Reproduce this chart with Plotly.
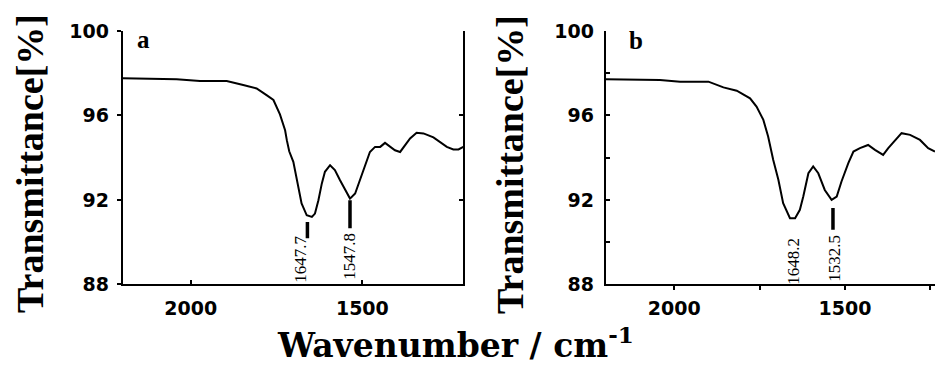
import plotly.graph_objects as go

# ---------------- data ----------------
# Panel a: wavenumber (cm^-1) and transmittance (%)
wn_a = [2198, 2041, 1973, 1895, 1847, 1808, 1779, 1759, 1740, 1725, 1720, 1713,
        1701, 1691, 1677, 1662, 1647, 1638, 1628, 1618, 1609, 1594, 1580, 1565,
        1550, 1536, 1521, 1507, 1492, 1478, 1463, 1448, 1434, 1419, 1405, 1390,
        1376, 1361, 1342, 1322, 1293, 1274, 1254, 1235, 1220, 1206]
tr_a = [97.76, 97.72, 97.63, 97.63, 97.44, 97.28, 96.96, 96.73, 96.05, 95.30, 94.83, 94.30,
        93.80, 92.93, 91.83, 91.27, 91.19, 91.35, 91.98, 92.78, 93.33, 93.64, 93.41, 92.93,
        92.46, 92.06, 92.30, 92.93, 93.56, 94.27, 94.51, 94.51, 94.70, 94.51, 94.35, 94.27,
        94.59, 94.91, 95.18, 95.15, 94.96, 94.75, 94.51, 94.39, 94.39, 94.51]

# Panel b
wn_b = [2201, 2042, 1983, 1900, 1856, 1817, 1778, 1759, 1739, 1725, 1710, 1695,
        1681, 1661, 1646, 1632, 1622, 1607, 1593, 1578, 1559, 1539, 1524, 1510,
        1490, 1475, 1456, 1432, 1412, 1388, 1373, 1353, 1334, 1309, 1280, 1256, 1236]
tr_b = [97.71, 97.68, 97.60, 97.60, 97.33, 97.17, 96.81, 96.42, 95.79, 95.00, 93.89, 92.95,
        91.84, 91.13, 91.13, 91.53, 92.16, 93.26, 93.58, 93.26, 92.47, 92.00, 92.16, 92.87,
        93.74, 94.29, 94.45, 94.60, 94.37, 94.13, 94.45, 94.84, 95.16, 95.08, 94.84, 94.45, 94.29]

# Peak markers (vertical bars) and peak labels
peak_bar_x_a = [1660, 1536]
peak_bar_top_a = [90.95, 91.98]
peak_bar_bot_a = [90.18, 90.65]
peak_lbl_a = ["1647.7", "1547.8"]
peak_lbl_x_a = [1679, 1536]
peak_lbl_y_a = [89.2, 89.3]

peak_bar_x_b = [1535]
peak_bar_top_b = [91.62]
peak_bar_bot_b = [90.58]
peak_lbl_b = ["1648.2", "1532.5"]
peak_lbl_x_b = [1649, 1531]
peak_lbl_y_b = [89.07, 89.23]

x_ticks = [2000, 1500]
x_minor_b = [1750, 1250]
y_ticks = [88, 92, 96, 100]
y_minor_b = [90, 94, 98]
y_range = [88, 100]
x_range_a = [2198, 1206]
x_range_b = [2201, 1236]

panel_letters = ["a", "b"]
y_title = "Transmittance[%]"
x_title = "Wavenumber / cm<sup>-1</sup>"

# ---------------- figure ----------------
W, H = 935, 365
fig = go.Figure()

fig.add_trace(go.Scatter(x=wn_a, y=tr_a, mode="lines", line=dict(color="black", width=2),
                         xaxis="x", yaxis="y", hoverinfo="skip", showlegend=False))
# invisible copy to activate the right-hand mirror axis of panel a
fig.add_trace(go.Scatter(x=wn_a, y=tr_a, mode="lines", opacity=0, line=dict(width=0),
                         xaxis="x", yaxis="y3", hoverinfo="skip", showlegend=False))
fig.add_trace(go.Scatter(x=wn_b, y=tr_b, mode="lines", line=dict(color="black", width=2),
                         xaxis="x2", yaxis="y2", hoverinfo="skip", showlegend=False))

for x, y0, y1 in zip(peak_bar_x_a, peak_bar_top_a, peak_bar_bot_a):
    fig.add_trace(go.Scatter(x=[x, x], y=[y0, y1], mode="lines", line=dict(color="black", width=3.5),
                             xaxis="x", yaxis="y", hoverinfo="skip", showlegend=False))
for x, y0, y1 in zip(peak_bar_x_b, peak_bar_top_b, peak_bar_bot_b):
    fig.add_trace(go.Scatter(x=[x, x], y=[y0, y1], mode="lines", line=dict(color="black", width=3.5),
                             xaxis="x2", yaxis="y2", hoverinfo="skip", showlegend=False))

tickfont = dict(family="DejaVu Sans", size=19, color="black", weight="bold")
ydom = [(H - 284.3) / H, (H - 31) / H]
common_ax = dict(showline=True, linewidth=2, linecolor="black", showgrid=False, zeroline=False,
                 tickwidth=2, tickcolor="black", ticklen=4, tickfont=tickfont, automargin=False)

fig.update_layout(
    template="none",
    width=W, height=H, margin=dict(l=0, r=0, t=0, b=0, pad=0), autosize=False,
    paper_bgcolor="white", plot_bgcolor="white", showlegend=False,
    xaxis=dict(domain=[122.7 / W, 463.3 / W], range=x_range_a, anchor="y",
               tickmode="array", tickvals=x_ticks, ticks="inside", ticklabelstandoff=6, **common_ax),
    yaxis=dict(domain=ydom, range=y_range, anchor="x", tickmode="array", tickvals=y_ticks,
               ticks="outside", ticklabelstandoff=4, **common_ax),
    yaxis3=dict(overlaying="y", side="right", anchor="x", range=y_range, tickmode="array",
                tickvals=y_ticks, ticks="inside", showticklabels=False, automargin=False,
                showline=True, linewidth=2, linecolor="black", showgrid=False, zeroline=False,
                tickwidth=2, tickcolor="black", ticklen=4),
    xaxis2=dict(domain=[605.7 / W, 1.0], range=x_range_b, anchor="y2",
                tickmode="array", tickvals=x_ticks, ticks="outside", ticklabelstandoff=2,
                minor=dict(tickmode="array", tickvals=x_minor_b, ticks="outside", ticklen=4,
                           tickwidth=2, tickcolor="black"),
                **common_ax),
    yaxis2=dict(domain=ydom, range=y_range, anchor="x2", tickmode="array", tickvals=y_ticks,
                ticks="inside", ticklabelstandoff=6,
                minor=dict(tickmode="array", tickvals=y_minor_b, ticks="inside", ticklen=4,
                           tickwidth=2, tickcolor="black"),
                **common_ax),
)

ann = []
serif = "Liberation Serif"
for txt, x, y in zip(peak_lbl_a, peak_lbl_x_a, peak_lbl_y_a):
    ann.append(dict(text=txt, x=x, y=y, xref="x", yref="y", showarrow=False, textangle=-90,
                    xanchor="center", yanchor="middle",
                    font=dict(family=serif, size=17, color="black")))
for txt, x, y in zip(peak_lbl_b, peak_lbl_x_b, peak_lbl_y_b):
    ann.append(dict(text=txt, x=x, y=y, xref="x2", yref="y2", showarrow=False, textangle=-90,
                    xanchor="center", yanchor="middle",
                    font=dict(family=serif, size=17, color="black")))

# panel letters
ann.append(dict(text=panel_letters[0], x=143.5 / W, y=1 - 39 / H, xref="paper", yref="paper",
                showarrow=False, xanchor="center", yanchor="middle",
                font=dict(family=serif, size=25, color="black", weight="bold")))
ann.append(dict(text=panel_letters[1], x=636 / W, y=1 - 41 / H, xref="paper", yref="paper",
                showarrow=False, xanchor="center", yanchor="middle",
                font=dict(family=serif, size=25, color="black", weight="bold")))

# y titles
for cx in (30, 510):
    ann.append(dict(text=y_title, x=cx / W, y=1 - 164 / H, xref="paper", yref="paper",
                    showarrow=False, textangle=-90, xanchor="center", yanchor="middle",
                    font=dict(family=serif, size=38, color="black", weight="bold")))

# x title
ann.append(dict(text=x_title, x=455 / W, y=1 - 343 / H, xref="paper", yref="paper",
                showarrow=False, xanchor="center", yanchor="middle",
                font=dict(family="DejaVu Serif", size=33, color="black", weight="bold")))

fig.update_layout(annotations=ann)
fig.write_html("out.html", config={"displayModeBar": False},
               post_script="document.body.style.margin='0';document.body.style.padding='0';")
